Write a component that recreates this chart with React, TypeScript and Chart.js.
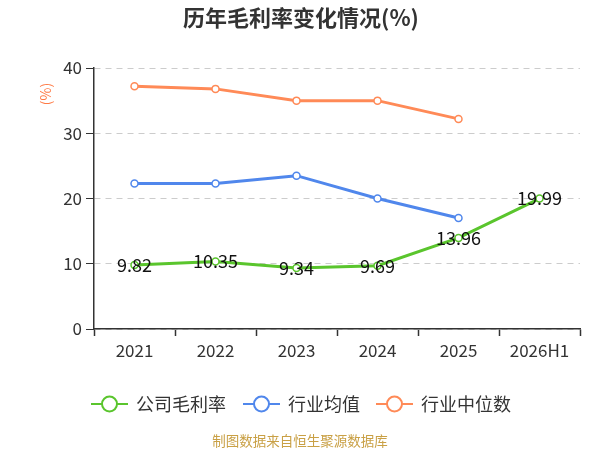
import React, { useEffect, useRef } from 'react';
import Chart from 'chart.js/auto';

const years = ['2021', '2022', '2023', '2024', '2025', '2026H1'];
const companyMargin = [9.82, 10.35, 9.34, 9.69, 13.96, 19.99];
const industryMean = [22.3, 22.3, 23.5, 20.0, 17.0, null];
const industryMedian = [37.2, 36.8, 35.0, 35.0, 32.2, null];
const seriesNames = ['公司毛利率', '行业均值', '行业中位数'];
const seriesColors = ['#5ac52d', '#5087ec', '#ff8a57'];

const FONT = '"Noto Sans CJK SC", "Noto Sans", sans-serif';

// title, unit, labels, legend and source text drawn straight onto the canvas
const extrasPlugin = {
  id: 'extras',
  afterDatasetsDraw(chart: any) {
    const ctx = chart.ctx;
    const meta = chart.getDatasetMeta(0);
    ctx.save();
    ctx.fillStyle = '#111';
    ctx.font = `18px ${FONT}`;
    ctx.textAlign = 'center';
    ctx.textBaseline = 'middle';
    meta.data.forEach((pt: any, i: number) => {
      ctx.fillText(companyMargin[i].toFixed(2), pt.x, pt.y);
    });
    ctx.restore();
  },
  afterDraw(chart: any) {
    const ctx = chart.ctx;
    ctx.save();
    // title
    ctx.fillStyle = '#333';
    ctx.font = `bold 22px ${FONT}`;
    ctx.textAlign = 'center';
    ctx.textBaseline = 'middle';
    ctx.fillText('历年毛利率变化情况(%)', 301, 18);

    // unit
    ctx.save();
    ctx.translate(46, 94);
    ctx.rotate(-Math.PI / 2);
    ctx.fillStyle = '#ff7a45';
    ctx.font = `14px ${FONT}`;
    ctx.fillText('(%)', 0, 0);
    ctx.restore();

    // legend
    const starts = [91, 243, 376];
    ctx.font = `18px ${FONT}`;
    ctx.textAlign = 'left';
    seriesNames.forEach((name, i) => {
      const x = starts[i];
      const y = 404;
      ctx.strokeStyle = seriesColors[i];
      ctx.lineWidth = 2;
      ctx.beginPath();
      ctx.moveTo(x, y);
      ctx.lineTo(x + 37, y);
      ctx.stroke();
      ctx.beginPath();
      ctx.arc(x + 18.5, y, 7.5, 0, Math.PI * 2);
      ctx.fillStyle = '#fff';
      ctx.fill();
      ctx.stroke();
      ctx.fillStyle = '#333';
      ctx.fillText(name, x + 45, y);
    });

    // source
    ctx.textAlign = 'center';
    ctx.fillStyle = '#c9a045';
    ctx.font = `13.5px ${FONT}`;
    ctx.fillText('制图数据来自恒生聚源数据库', 300, 441);
    ctx.restore();
  },
};

const App: React.FC = () => {
  const chartRef = useRef<HTMLCanvasElement>(null);
  const chartInstance = useRef<Chart | null>(null);

  useEffect(() => {
    document.body.style.margin = '0';
    if (chartRef.current) {
      if (chartInstance.current) {
        chartInstance.current.destroy();
      }
      const ctx = chartRef.current.getContext('2d');
      if (ctx) {
        const makeSet = (label: string, data: (number | null)[], color: string) => ({
          label,
          data,
          borderColor: color,
          backgroundColor: '#fff',
          borderWidth: 3,
          pointRadius: 3.5,
          pointBorderWidth: 1.5,
          pointBackgroundColor: '#fff',
          pointBorderColor: color,
          tension: 0,
        });
        chartInstance.current = new Chart(ctx, {
          type: 'line',
          data: {
            labels: years,
            datasets: [
              makeSet(seriesNames[0], companyMargin, seriesColors[0]),
              makeSet(seriesNames[1], industryMean, seriesColors[1]),
              makeSet(seriesNames[2], industryMedian, seriesColors[2]),
            ],
          },
          options: {
            responsive: false,
            animation: false,
            layout: { padding: { top: 68, right: 20, bottom: 81, left: 0 } },
            plugins: {
              legend: { display: false },
              title: { display: false },
              tooltip: { enabled: false },
            },
            scales: {
              x: {
                offset: true,
                grid: {
                  offset: true,
                  drawOnChartArea: false,
                  tickLength: 7,
                  tickColor: '#333',
                  tickWidth: 1.5,
                },
                border: { color: '#333', width: 1.5 },
                ticks: { color: '#333', font: { size: 17, family: FONT }, padding: 4 },
                afterFit: (scale: any) => {
                  scale.height = 40;
                },
              },
              y: {
                min: 0,
                max: 40,
                ticks: { stepSize: 10, color: '#333', font: { size: 17, family: FONT }, padding: 4 },
                grid: {
                  color: '#cccccc',
                  tickColor: '#333',
                  tickLength: 8,
                  lineWidth: 1,
                  tickBorderDash: [],
                },
                border: { color: '#333', width: 1.5, dash: [6, 5] },
                afterFit: (scale: any) => {
                  scale.width = 94;
                },
              },
            },
          },
          plugins: [extrasPlugin],
        });
      }
    }
    return () => {
      if (chartInstance.current) {
        chartInstance.current.destroy();
        chartInstance.current = null;
      }
    };
  }, []);

  return (
    <div style={{ width: '600px', height: '450px' }}>
      <canvas ref={chartRef} width={600} height={450}></canvas>
    </div>
  );
};

export default App;
